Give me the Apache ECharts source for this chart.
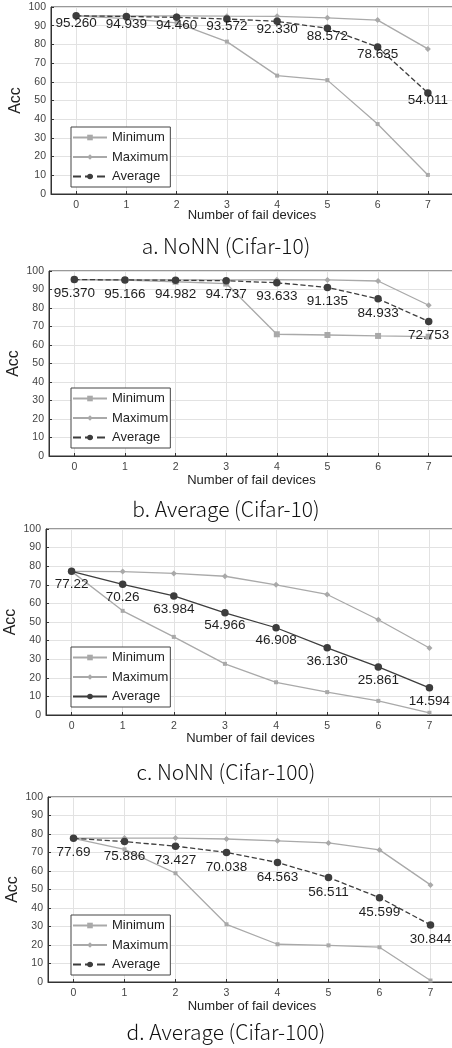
<!DOCTYPE html>
<html>
<head>
<meta charset="utf-8">
<script src="https://cdn.jsdelivr.net/npm/echarts@6/dist/echarts.min.js"></script>
<style>
html,body{margin:0;padding:0;background:#fff;}
#chart{width:452px;height:1048px;}
</style>
</head>
<body>
<div id="chart"></div>
<script>
// ---- data ----
const failDevices = [0, 1, 2, 3, 4, 5, 6, 7];
const yTickMin = 0, yTickMax = 100, yTickStep = 10;
const seriesNames = ['Minimum', 'Maximum', 'Average'];
const captions = ['a. NoNN (Cifar-10)', 'b. Average (Cifar-10)', 'c. NoNN (Cifar-100)', 'd. Average (Cifar-100)'];

const aMin = [95.26, 93.8, 91.5, 81.5, 63.3, 60.9, 37.4, 10.2];
const aMax = [95.26, 95.3, 95.3, 95.1, 95.0, 94.2, 93.0, 77.6];
const aAvg = [95.260, 94.939, 94.460, 93.572, 92.330, 88.572, 78.635, 54.011];
const aAvgText = ['95.260', '94.939', '94.460', '93.572', '92.330', '88.572', '78.635', '54.011'];

const bMin = [95.37, 95.1, 94.2, 93.2, 65.8, 65.4, 64.9, 64.5];
const bMax = [95.37, 95.3, 95.2, 95.2, 95.3, 95.2, 94.6, 81.5];
const bAvg = [95.370, 95.166, 94.982, 94.737, 93.633, 91.135, 84.933, 72.753];
const bAvgText = ['95.370', '95.166', '94.982', '94.737', '93.633', '91.135', '84.933', '72.753'];

const cMin = [77.22, 56.0, 42.0, 27.5, 17.6, 12.3, 7.6, 1.2];
const cMax = [77.22, 77.1, 76.1, 74.6, 70.0, 64.8, 51.2, 36.0];
const cAvg = [77.22, 70.26, 63.984, 54.966, 46.908, 36.130, 25.861, 14.594];
const cAvgText = ['77.22', '70.26', '63.984', '54.966', '46.908', '36.130', '25.861', '14.594'];

const dMin = [77.69, 71.7, 58.8, 31.2, 20.4, 19.8, 18.8, 0.8];
const dMax = [77.69, 77.8, 77.8, 77.3, 76.3, 75.2, 71.4, 52.5];
const dAvg = [77.69, 75.886, 73.427, 70.038, 64.563, 56.511, 45.599, 30.844];
const dAvgText = ['77.69', '75.886', '73.427', '70.038', '64.563', '56.511', '45.599', '30.844'];

// ---- layout (styles only) ----
const panels = [
  {min: aMin, max: aMax, avg: aAvg, txt: aAvgText, top: 7,   height: 187, left: 51, width: 402, nameGap: 15, labelDy: 7.5, minSize: 4, avgDash: 'dashed', capY: 244, legTop: 127},
  {min: bMin, max: bMax, avg: bAvg, txt: bAvgText, top: 271, height: 185, left: 49, width: 405, nameGap: 18, labelDy: 14, minSize: 6, avgDash: 'dashed', capY: 507, legTop: 388},
  {min: cMin, max: cMax, avg: cAvg, txt: cAvgText, top: 529, height: 186, left: 46, width: 409, nameGap: 17, labelDy: 13, minSize: 4, avgDash: 'solid', capY: 770, legTop: 647},
  {min: dMin, max: dMax, avg: dAvg, txt: dAvgText, top: 797, height: 185, left: 48, width: 408, nameGap: 18, labelDy: 14.5, minSize: 4, avgDash: 'dashed', capY: 1030, legTop: 915}
];

const lightGray = '#a9a9a9';
const darkGray = '#3d3d3d';
const axisCol = '#333';
const gridCol = '#e2e2e2';

const grids = [], xAxes = [], yAxes = [], series = [], legends = [], titles = [];
const pair = arr => failDevices.map((x, i) => [x, arr[i]]);

panels.forEach((p, k) => {
  grids.push({left: p.left, top: p.top, width: p.width, height: p.height,
    show: true, borderColor: axisCol, borderWidth: 1, backgroundColor: '#fff',
    containLabel: false, outerBoundsMode: 'none'});
  xAxes.push({
    type: 'value', gridIndex: k, min: -0.5, max: 7.5,
    name: 'Number of fail devices', nameLocation: 'middle', nameGap: p.nameGap, nameMoveOverlap: false,
    nameTextStyle: {fontFamily: 'Liberation Sans, Arial', fontSize: 13, color: '#222'},
    axisLine: {show: true, onZero: false, lineStyle: {color: axisCol}},
    axisTick: {show: true, inside: true, length: 3, customValues: failDevices, lineStyle: {color: axisCol}},
    axisLabel: {customValues: failDevices, fontFamily: 'Liberation Sans, Arial', fontSize: 10.5, color: '#444', margin: 6},
    splitLine: {show: true, lineStyle: {color: gridCol, width: 1}}
  });
  yAxes.push({
    type: 'value', gridIndex: k, min: yTickMin, max: yTickMax, interval: yTickStep,
    name: 'Acc', nameLocation: 'middle', nameGap: 27, nameMoveOverlap: false,
    nameTextStyle: {fontFamily: 'Liberation Sans, Arial', fontSize: 16, color: '#222'},
    axisLine: {show: true, onZero: false, lineStyle: {color: axisCol}},
    axisTick: {show: true, inside: true, length: 3, lineStyle: {color: axisCol}},
    axisLabel: {fontFamily: 'Liberation Sans, Arial', fontSize: 10.5, color: '#444', margin: 5},
    splitLine: {show: true, lineStyle: {color: gridCol, width: 1}}
  });
  const suffix = '|' + k;
  series.push({
    name: 'Minimum' + suffix, type: 'line', xAxisIndex: k, yAxisIndex: k, data: pair(p.min),
    symbol: 'rect', symbolSize: p.minSize, showAllSymbol: true,
    lineStyle: {color: lightGray, width: 1.3}, itemStyle: {color: lightGray}, z: 2
  });
  series.push({
    name: 'Maximum' + suffix, type: 'line', xAxisIndex: k, yAxisIndex: k, data: pair(p.max),
    symbol: 'diamond', symbolSize: 6, showAllSymbol: true,
    lineStyle: {color: lightGray, width: 1.3}, itemStyle: {color: lightGray}, z: 2
  });
  series.push({
    name: 'Average' + suffix, type: 'line', xAxisIndex: k, yAxisIndex: k, data: pair(p.avg),
    symbol: 'circle', symbolSize: 7.5, showAllSymbol: true,
    lineStyle: {color: darkGray, width: 1.3, type: p.avgDash}, itemStyle: {color: darkGray}, z: 3,
    label: {show: true, position: 'inside', offset: [0, p.labelDy],
      formatter: (prm => p.txt[prm.dataIndex]),
      fontFamily: 'Liberation Sans, Arial', fontSize: 13.5, color: '#1e1e1e'}
  });
  legends.push({
    data: seriesNames.map(n => n + suffix), orient: 'vertical', left: 71, top: p.legTop,
    backgroundColor: '#fff', borderColor: '#444', borderWidth: 1, padding: [3, 2, 3, 1],
    itemWidth: 34, itemHeight: 7, itemGap: 4.5, selectedMode: false,
    formatter: n => n.split('|')[0],
    textStyle: {fontFamily: 'Liberation Sans, Arial', fontSize: 13, color: '#1e1e1e', lineHeight: 15}
  });
  titles.push({
    text: captions[k], left: 'center', top: p.capY - 13,
    textStyle: {fontFamily: 'Noto Sans CJK KR', fontSize: 21, fontWeight: 300, color: '#111'}
  });
});

const chart = echarts.init(document.getElementById('chart'), null, {renderer: 'canvas'});
chart.setOption({
  animation: false,
  backgroundColor: '#fff',
  title: titles,
  grid: grids,
  xAxis: xAxes,
  yAxis: yAxes,
  legend: legends,
  series: series
});
</script>
</body>
</html>
